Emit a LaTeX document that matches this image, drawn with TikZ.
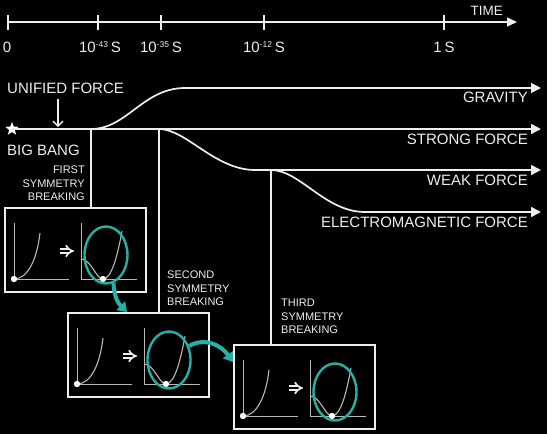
\documentclass[tikz,border=0pt]{standalone}
\usepackage{fontspec}
\setmainfont{Liberation Sans}
\usetikzlibrary{arrows.meta,shapes.geometric,calc}
\definecolor{tealc}{RGB}{36,178,168}
\definecolor{fg}{RGB}{238,238,238}
\definecolor{plotc}{RGB}{185,185,185}
\newcommand\tenpow[1]{10\raisebox{4.6pt}{\fontsize{8.5}{8.5}\selectfont #1}\hspace{3pt}S}
\begin{document}
\begin{tikzpicture}[x=1pt,y=-1pt,
  lab/.style={text=fg,inner sep=0pt,font=\fontsize{15}{15}\selectfont},
  small/.style={text=fg,inner sep=0pt,font=\fontsize{11}{13.5}\selectfont},
  force/.style={fg,line width=1.7pt,-{Triangle[length=10pt,width=10pt]}},
  tline/.style={fg,line width=1.6pt},
  vline/.style={fg,line width=1.4pt},
  frame/.style={draw=fg,line width=1.8pt,inner sep=0pt},
  axis/.style={plotc,line width=0.8pt},
  pcurve/.style={plotc,line width=1.1pt},
  ell/.style={draw=tealc,line width=2.4pt,ellipse,inner sep=0pt,minimum width=43pt,minimum height=57pt},
  tarrow/.style={tealc,line width=4pt,-{Triangle[length=9pt,width=12pt]}},
  panel/.pic={
    \node[frame,anchor=north west,minimum width=141pt,minimum height=84pt] (-box) at (0,0) {};
    \draw[axis] (10,16) -- (10,72) -- (65,72);
    \draw[pcurve] (10,72) .. controls (24,72) and (33,52) .. (36,26);
    \fill[white] (10,72) circle (3.2);
    \draw[fg,line width=1.7pt,double=black,double distance=2.4pt,-{Implies}] (56,44) -- (70,44);
    \draw[axis] (77,16) -- (77,72) -- (133,72);
    \draw[pcurve] (77,52) .. controls (87,52) and (92,72) .. (99,72) .. controls (108,72) and (114,46) .. (118,24);
    \fill[white] (99,72) circle (3.2);
    \node[ell] (-ell) at (102,48) {};
  }]
\fill[black] (0,0) rectangle (547,434);
\useasboundingbox (0,0) rectangle (547,434);

% timeline
\draw[tline,-{Triangle[length=10pt,width=9pt]}] (8,22) -- (517,22);
\foreach \x in {8,98,161,264,444} \draw[tline] (\x,15) -- (\x,30);
\node[lab,anchor=base] (t0) at (7,52.5) {0};
\node[lab,anchor=base] (t1) at (100,52.5) {\tenpow{-43}};
\node[lab,anchor=base] (t2) at (161,52.5) {\tenpow{-35}};
\node[lab,anchor=base] (t3) at (264,52.5) {\tenpow{-12}};
\node[lab,anchor=base] (t4) at (444,52.5) {1\hspace{3pt}S};
\node[lab,anchor=base east,font=\fontsize{13.5}{13.5}\selectfont] (time) at (503,15) {TIME};

% forces
\node[star,star points=5,star point ratio=2.3,fill=white,inner sep=0pt,minimum size=14pt] (bb) at (12,129) {};
\coordinate (s1) at (91,129);
\coordinate (s2) at (159,129);
\coordinate (s3) at (271,170);
\draw[force] (bb.center) -- (541,129);
\draw[force] (s1) .. controls (127,129) and (143,88) .. (185,88) -- (541,88);
\draw[force] (s2) .. controls (186,129) and (215,170) .. (255,170) -- (541,170);
\draw[force] (s3) .. controls (300,170) and (325,212) .. (365,212) -- (541,212);

\node[lab,anchor=base west] (uf) at (7,93) {UNIFIED FORCE};
\coordinate (ufa) at (58,127);
\draw[fg,line width=1.4pt,-{Straight Barb[length=5pt,width=10pt]}] ($(ufa |- uf.south)+(0,6)$) -- (ufa);
\node[lab,anchor=base west] (bbl) at (7,155) {BIG BANG};
\node[lab,anchor=base east] (grav) at (528,102) {GRAVITY};
\node[lab,anchor=base east] (strong) at (528,144) {STRONG FORCE};
\node[lab,anchor=base east] (weak) at (528,185) {WEAK FORCE};
\node[lab,anchor=base east] (em) at (528,227) {ELECTROMAGNETIC FORCE};

% panels
\pic (p1) at (4,207) {panel};
\pic (p2) at (67,312) {panel};
\pic (p3) at (233,344) {panel};

\draw[vline] (s1) -- (s1 |- p1-box.north);
\draw[vline] (s2) -- (s2 |- p2-box.north);
\draw[vline] (s3) -- (s3 |- p3-box.north);

\node[small,align=right,anchor=north east] (sb1) at (85,166) {FIRST\\SYMMETRY\\BREAKING};
\node[small,align=left,anchor=north west] (sb2) at (167,271) {SECOND\\SYMMETRY\\BREAKING};
\node[small,align=left,anchor=north west] (sb3) at (281,299) {THIRD\\SYMMETRY\\BREAKING};

\draw[tarrow] (p1-ell.-75) .. controls (114,298) and (119,304) .. ($(p2-box.north west)+(60,0)$);
\draw[tarrow] (p2-ell.35) .. controls (205,337) and (221,345) .. ($(p3-box.north west)+(0,18)$);
\end{tikzpicture}
\end{document}
